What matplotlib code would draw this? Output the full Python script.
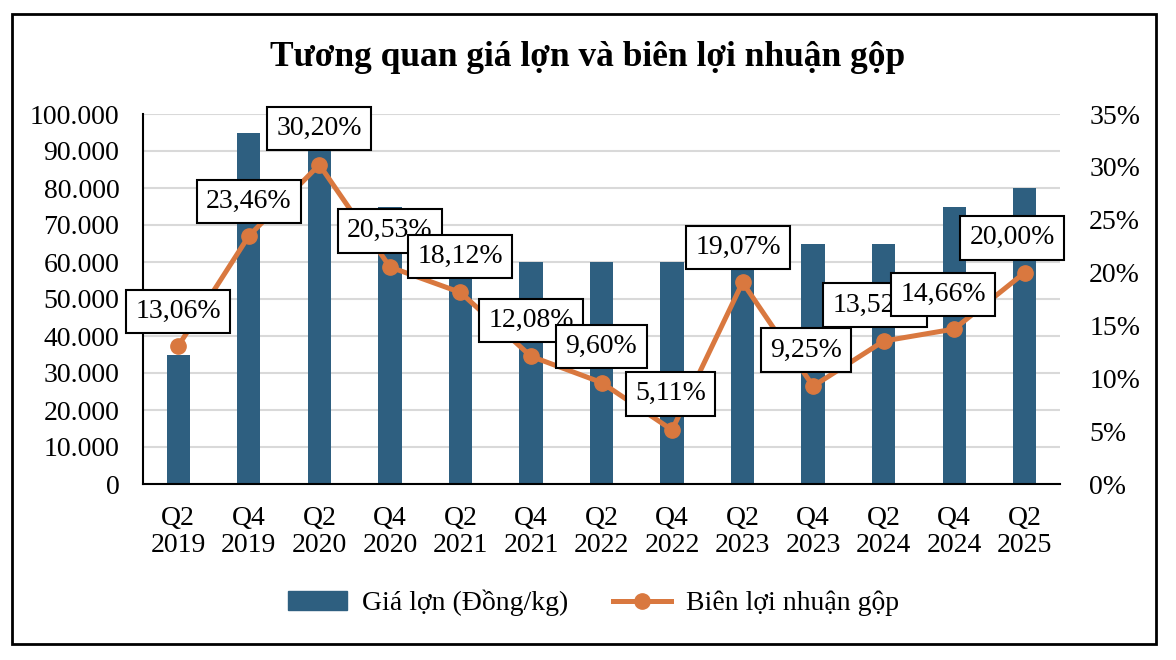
import numpy as np
import matplotlib.pyplot as plt
from matplotlib.patches import Rectangle
from matplotlib.lines import Line2D
from matplotlib.ticker import FuncFormatter

plt.rcParams['font.family'] = ['Liberation Serif', 'DejaVu Serif']

quarters = ['Q2\n2019', 'Q4\n2019', 'Q2\n2020', 'Q4\n2020', 'Q2\n2021', 'Q4\n2021', 'Q2\n2022',
            'Q4\n2022', 'Q2\n2023', 'Q4\n2023', 'Q2\n2024', 'Q4\n2024', 'Q2\n2025']
gia_lon = [35000, 95000, 90000, 75000, 60000, 60000, 60000, 60000, 60000, 65000, 65000, 75000, 80000]
bien_ln = [13.06, 23.46, 30.20, 20.53, 18.12, 12.08, 9.60, 5.11, 19.07, 9.25, 13.52, 14.66, 20.00]

# label offsets (points) from the marker, like excel puts them
lab_dx = [0, 0, 0, 0, 0, 0, 0, -1, -3, -5, -6, -8, -9]
lab_dy = [25, 25, 26, 26, 26, 26, 26, 26, 25, 26, 26, 25, 25]

bar_col = '#2E5F80'
line_col = '#D9783F'

fig = plt.figure(figsize=(11.76, 6.6), dpi=100)
ax = fig.add_axes([143/1176, 1-484/660, (1060-143)/1176, (484-114)/660])
ax2 = ax.twinx()

x = np.arange(len(quarters))
ax.bar(x, gia_lon, width=0.33, color=bar_col, zorder=2)
ax.set_ylim(0, 100000)
ax.set_yticks(np.arange(0, 100001, 10000))
ax.yaxis.set_major_formatter(FuncFormatter(lambda v, p: f'{int(v):,}'.replace(',', '.')))
ax.set_xlim(-0.5, len(quarters)-0.5)
ax.set_xticks(x)
ax.set_xticklabels(quarters, linespacing=1.1)
ax.grid(axis='y', color='#D9D9D9', linewidth=1.5, zorder=0)
ax.set_axisbelow(True)
ax.tick_params(length=0, labelsize=20, pad=17)
ax.tick_params(axis='x', pad=16)
for s in ['top', 'right']:
    ax.spines[s].set_visible(False)
ax.spines['left'].set_linewidth(1.5)
ax.spines['bottom'].set_linewidth(1.5)

pct = np.array(bien_ln) / 100
ax2.plot(x, pct, color=line_col, lw=3.6, marker='o', ms=11, zorder=3)
ax2.set_ylim(0, 0.35)
ax2.set_yticks(np.arange(0, 0.351, 0.05))
ax2.yaxis.set_major_formatter(FuncFormatter(lambda v, p: f'{v*100:.0f}%'))
ax2.tick_params(length=0, labelsize=20, pad=21)
for s in ['top', 'right', 'left', 'bottom']:
    ax2.spines[s].set_visible(False)

for i, v in enumerate(bien_ln):
    ax2.annotate(f'{v:.2f}%'.replace('.', ','), (x[i], pct[i]),
                 xytext=(lab_dx[i], lab_dy[i]), textcoords='offset points',
                 ha='center', va='center', fontsize=20, zorder=5,
                 bbox=dict(boxstyle='square,pad=0.33', fc='white', ec='black', lw=1.5))

fig.text(0.5, 1-58/660, 'Tương quan giá lợn và biên lợi nhuận gộp',
         ha='center', va='center', fontsize=25.5, fontweight='bold')

handles = [Rectangle((0, 0), 1, 1, color=bar_col),
           Line2D([0], [0], color=line_col, lw=3.6, marker='o', ms=11)]
fig.legend(handles, ['Giá lợn (Đồng/kg)', 'Biên lợi nhuận gộp'], loc='center',
           bbox_to_anchor=(0.505, 1-603/660), ncol=2, frameon=False, fontsize=20,
           handlelength=2.1, handletextpad=0.55, columnspacing=1.6)

fig.patches.append(Rectangle((12/1176, 1-644/660), (1156-12)/1176, (644-14)/660,
                             transform=fig.transFigure, fill=False, ec='black', lw=2))

fig.savefig('out.png', dpi=100)
